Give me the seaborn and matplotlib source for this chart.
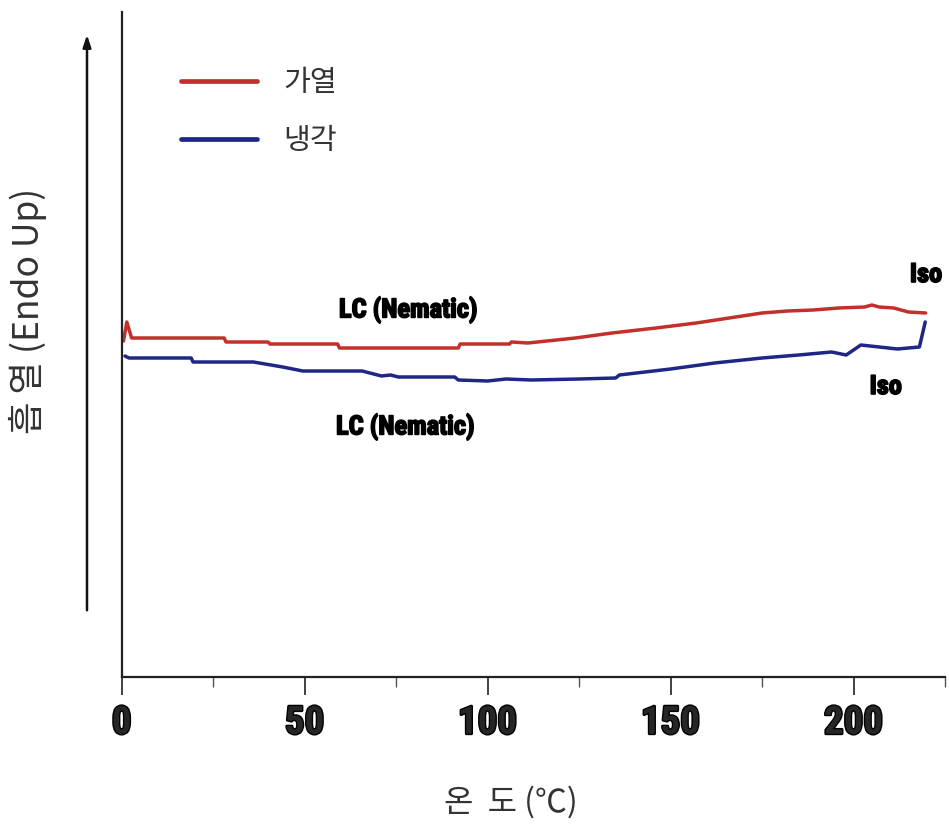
import numpy as np
import pandas as pd
import matplotlib
matplotlib.use("Agg")
import matplotlib.pyplot as plt
import matplotlib.patheffects as pe
from matplotlib.ticker import MultipleLocator
import seaborn as sns

# ---- data ----
heat_T = [0.5, 1.4, 2.7, 10, 28, 28.5, 40, 40.5, 59, 59.5, 92, 92.5, 106, 106.5, 111,
          124, 134, 146, 157, 166, 175, 182, 189, 196, 203, 205, 207, 211, 215, 219.7]
heat_val = [33.6, 35.5, 33.9, 33.9, 33.9, 33.5, 33.5, 33.3, 33.3, 32.9, 32.9, 33.3, 33.3, 33.5, 33.4,
            33.9, 34.4, 34.9, 35.4, 35.9, 36.4, 36.6, 36.7, 36.9, 37.0, 37.2, 37.0, 36.9, 36.5, 36.4]

cool_T = [0.9, 2, 19, 19.5, 36, 44, 49.5, 65.7, 71, 73.5, 75.6, 91, 92, 100, 105, 112,
          125, 135, 136, 150, 162, 175, 185, 194, 198, 202, 207, 212, 218, 219.6]
cool_val = [32.1, 31.9, 31.9, 31.5, 31.5, 31.0, 30.6, 30.6, 30.1, 30.2, 30.0, 30.0, 29.7, 29.6, 29.8, 29.7,
            29.8, 29.9, 30.2, 30.8, 31.4, 31.9, 32.2, 32.5, 32.2, 33.2, 33.0, 32.8, 33.0, 35.5]

series_names = ["가열", "냉각"]
x_ticks = [0, 50, 100, 150, 200]
x_label = "온  도 (℃)"
y_label = "흡 열 (Endo Up)"
phase_labels = ["LC (Nematic)", "LC (Nematic)", "Iso", "Iso"]

df = pd.concat([
    pd.DataFrame({"T": heat_T, "val": heat_val, "series": series_names[0]}),
    pd.DataFrame({"T": cool_T, "val": cool_val, "series": series_names[1]}),
], ignore_index=True)

sns.set_theme(style="white")
plt.rcParams['font.family'] = ['Noto Sans CJK KR', 'DejaVu Sans']

W, H = 949, 832
fig = plt.figure(figsize=(W / 100, H / 100), dpi=100)
ax = fig.add_axes([121.7 / W, 1 - 677 / H, (945 - 121.7) / W, (677 - 12) / H])

palette = {series_names[0]: "#c2302c", series_names[1]: "#1e2686"}
sns.lineplot(data=df, x="T", y="val", hue="series", palette=palette, sort=False,
             estimator=None, linewidth=2.5, ax=ax)

ax.set_xlim(0, 225)
ax.set_ylim(0, 66.5)
ax.set_yticks([])
ax.set_xticks(x_ticks)
ax.xaxis.set_minor_locator(MultipleLocator(25))
ax.set_xlabel("")
ax.set_ylabel("")
for s in ["top", "right"]:
    ax.spines[s].set_visible(False)
for s in ["left", "bottom"]:
    ax.spines[s].set_color("#222222")
    ax.spines[s].set_linewidth(1.6)

narrow = ['Roboto Condensed', 'DejaVu Sans']
ax.tick_params(axis="x", which="major", direction="out", length=13, width=1.3,
               color="#333333", pad=7, bottom=True)
ax.tick_params(axis="x", which="minor", direction="out", length=7, width=1.0,
               color="#555555", bottom=True)
ax.set_xticklabels([str(t) for t in x_ticks])
for lab in ax.get_xticklabels():
    lab.set_family(narrow)
    lab.set_fontweight("bold")
    lab.set_fontsize(28)
    lab.set_path_effects([pe.withStroke(linewidth=2.0, foreground="black")])

# legend
leg = ax.legend(loc="upper left", bbox_to_anchor=((155 - 121.7) / (945 - 121.7), (677 - 42) / 665),
                frameon=False, fontsize=21, handlelength=2.6, handletextpad=0.9,
                labelspacing=0.95)
for line in leg.get_lines():
    line.set_linewidth(3.4)
for t in leg.get_texts():
    t.set_color("#333333")

# phase annotations
pe_bold = [pe.withStroke(linewidth=1.2, foreground="black")]
txt_kw = dict(family=narrow, fontweight="bold", fontsize=19, color="black",
              ha="center", va="center", path_effects=pe_bold)
ax.text(78.3, 36.7, phase_labels[0], **txt_kw)
ax.text(77.5, 25.0, phase_labels[1], **txt_kw)
ax.text(219.8, 40.2, phase_labels[2], clip_on=False, **txt_kw)
ax.text(208.8, 29.0, phase_labels[3], **txt_kw)

# endothermic arrow at the left
ax.annotate("", xy=(87, H - 32), xytext=(87, H - 613), xycoords="figure pixels",
            textcoords="figure pixels",
            arrowprops=dict(arrowstyle="-|>,head_length=0.6,head_width=0.2",
                            color="#111111", lw=1.8))

fig.text(28 / W, 1 - 311 / H, y_label, rotation=90, ha="center", va="center",
         fontsize=25.5, color="#333333")
fig.text(511 / W, 1 - 802 / H, x_label, ha="center", va="center",
         fontsize=23, color="#333333")

fig.savefig("out.png", dpi=100, facecolor="white")
